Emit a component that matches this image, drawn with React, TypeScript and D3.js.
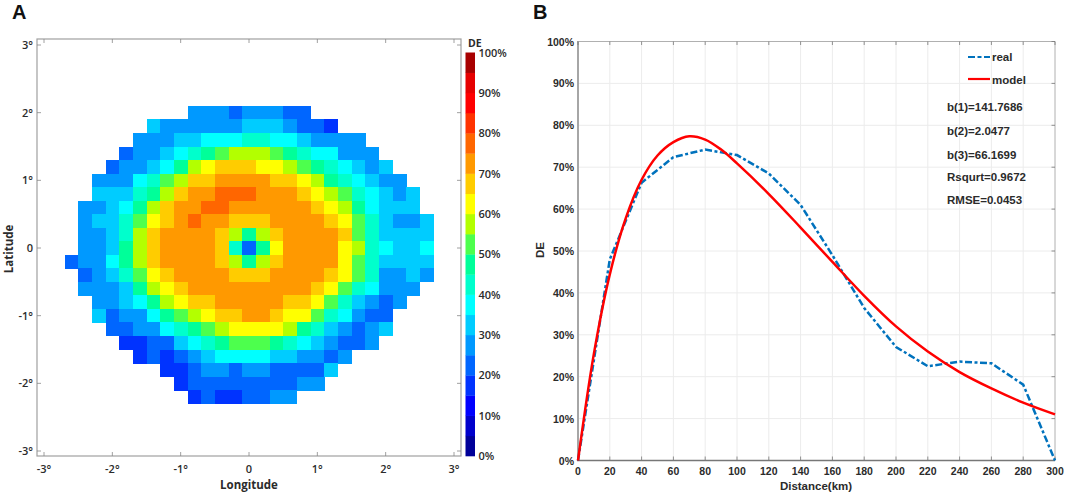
import React, { useEffect, useRef } from 'react';
import * as d3 from 'd3';

// Panel A: detection efficiency per 0.2 degree cell, top row first
// each row: first column index (col * 0.2 = longitude), then the values
const rowLats = d3.range(10, -12, -1);
const rowStarts = [-4, -7, -8, -9, -10, -11, -11, -12, -12, -12, -12, -13, -12, -12, -11, -11, -10, -9, -8, -6, -5, -4];
const rowValues = [
  [27, 27, 27, 22, 27, 27, 27, 22, 22],
  [32, 27, 27, 27, 27, 27, 27, 32, 32, 32, 27, 22, 22, 17],
  [27, 27, 27, 32, 32, 37, 37, 37, 42, 42, 37, 37, 32, 27, 27, 27, 27],
  [22, 27, 27, 32, 37, 42, 47, 52, 57, 57, 57, 52, 47, 42, 37, 37, 27, 27, 27],
  [22, 27, 27, 32, 37, 47, 57, 62, 67, 67, 67, 62, 62, 57, 52, 47, 42, 37, 32, 27, 32],
  [27, 27, 27, 37, 42, 52, 57, 67, 67, 72, 72, 72, 72, 67, 67, 62, 57, 47, 42, 37, 32, 27, 27],
  [32, 32, 32, 42, 47, 57, 67, 72, 72, 77, 77, 77, 72, 72, 72, 67, 62, 57, 52, 42, 37, 32, 27, 32],
  [27, 27, 32, 37, 47, 57, 67, 72, 72, 77, 77, 72, 72, 72, 72, 72, 72, 67, 62, 57, 47, 37, 32, 32, 32],
  [27, 32, 32, 42, 52, 62, 67, 72, 77, 72, 72, 67, 67, 67, 72, 72, 72, 72, 67, 62, 52, 42, 32, 27, 27, 32],
  [27, 27, 32, 42, 57, 67, 72, 72, 72, 72, 67, 57, 47, 57, 67, 72, 72, 72, 72, 67, 52, 42, 32, 32, 32, 32],
  [27, 27, 32, 47, 57, 67, 72, 72, 72, 72, 67, 42, 22, 47, 62, 72, 72, 72, 72, 62, 57, 42, 37, 32, 32, 37],
  [22, 27, 27, 37, 47, 57, 67, 72, 72, 72, 72, 67, 57, 47, 57, 67, 72, 72, 72, 72, 62, 52, 42, 32, 32, 32, 32],
  [22, 27, 32, 42, 52, 62, 67, 72, 72, 72, 72, 67, 67, 67, 72, 72, 72, 72, 67, 62, 52, 42, 27, 27, 32, 27],
  [27, 27, 27, 32, 47, 57, 62, 67, 72, 72, 72, 72, 72, 72, 72, 72, 72, 67, 62, 52, 42, 37, 27, 27, 27],
  [27, 27, 32, 37, 47, 57, 62, 67, 67, 72, 72, 72, 72, 72, 67, 67, 62, 52, 42, 32, 27, 22, 27],
  [32, 22, 27, 27, 37, 47, 52, 57, 62, 67, 67, 72, 72, 67, 62, 62, 52, 42, 37, 27, 22, 22],
  [22, 22, 27, 27, 37, 42, 47, 52, 57, 62, 62, 62, 62, 57, 47, 42, 32, 27, 22, 27, 32],
  [17, 17, 22, 22, 32, 37, 42, 47, 52, 52, 52, 47, 42, 37, 32, 27, 22, 22, 27],
  [17, 22, 17, 22, 27, 32, 37, 37, 37, 37, 32, 32, 27, 27, 22, 27],
  [17, 17, 22, 27, 27, 22, 27, 27, 22, 22, 22, 22, 32],
  [17, 22, 22, 22, 22, 22, 22, 22, 22, 27, 27],
  [17, 22, 17, 17, 22, 22, 27, 27],
];

const levelColors = [
  '#000099', '#0000cc', '#0000ff', '#0033ff', '#0066ff', '#0099ff', '#00ccff', '#00ffff', '#00ffcc', '#00ff99',
  '#4dff4d', '#b3ff00', '#ffff00', '#ffcc00', '#ff9900', '#ff6600', '#ff3300', '#ff0000', '#e60000', '#a80000',
];

const degreeTicks = [-3, -2, -1, 0, 1, 2, 3];
const colorbarTicks = d3.range(0, 101, 10);

// Panel B
const realDistance = [0, 20, 40, 60, 80, 100, 120, 140, 160, 180, 200, 220, 240, 260, 280, 300];
const realDE = [0, 48, 66.3, 72.4, 74.2, 72.9, 68.5, 61, 49, 36.4, 27.1, 22.5, 23.6, 23.2, 18.1, 0];
const modelDistance = [0, 10, 20, 30, 40, 50, 60, 70, 80, 90, 100, 120, 140, 160, 180, 200, 220, 240, 260, 280, 300];
const modelDE = [0, 25.5, 44.4, 57.8, 67, 72.8, 76, 77.4, 76.6, 74.2, 70.9, 63.6, 55.6, 47.4, 39.3, 32, 26, 21.1, 17.2, 13.8, 11];
const distanceTicks = d3.range(0, 301, 20);
const percentTicks = d3.range(0, 101, 10);
const fitLabels = ['b(1)=141.7686', 'b(2)=2.0477', 'b(3)=66.1699', 'Rsqurt=0.9672', 'RMSE=0.0453'];
const fitLabelY = [111, 135, 159, 181, 204];

const App: React.FC = () => {
  const chartRef = useRef<SVGSVGElement>(null);

  useEffect(() => {
    if (!chartRef.current) return;
    const svg = d3.select(chartRef.current);
    svg.selectAll('*').remove();

    const textColor = '#2b2b2b';
    const frameColor = '#a0a0a0';
    const fontA = '"Open Sans", sans-serif';
    const fontB = '"Liberation Sans", Arial, sans-serif';

    // ---- Panel A ----
    const x = d3.scaleLinear().domain([-3, 3]).range([44, 454]);
    const y = d3.scaleLinear().domain([3, -3]).range([45, 451]);
    const color = d3.scaleQuantize<string>().domain([0, 100]).range(levelColors);

    const cellW = x(0.2) - x(0);
    const cellH = y(-0.2) - y(0);

    const cells = rowValues.flatMap((vals, r) =>
      vals.map((v, i) => ({ col: rowStarts[r] + i, lat: rowLats[r], v }))
    );

    svg.append('g')
      .attr('shape-rendering', 'crispEdges')
      .selectAll('rect')
      .data(cells)
      .enter()
      .append('rect')
      .attr('x', d => x(d.col * 0.2) - cellW / 2)
      .attr('y', d => y(d.lat * 0.2) - cellH / 2)
      .attr('width', cellW + 0.5)
      .attr('height', cellH + 0.5)
      .attr('fill', d => color(d.v));

    // Frame and inward ticks on all four sides
    svg.append('rect')
      .attr('x', 37)
      .attr('y', 39)
      .attr('width', 424)
      .attr('height', 417)
      .attr('fill', 'none')
      .attr('stroke', frameColor)
      .attr('stroke-width', 1.2);

    const ticksA = svg.append('g').attr('stroke', '#888').attr('stroke-width', 0.8);
    degreeTicks.forEach(t => {
      ticksA.append('line').attr('x1', x(t)).attr('x2', x(t)).attr('y1', 456).attr('y2', 452);
      ticksA.append('line').attr('x1', x(t)).attr('x2', x(t)).attr('y1', 39).attr('y2', 43);
      ticksA.append('line').attr('x1', 37).attr('x2', 41).attr('y1', y(t)).attr('y2', y(t));
      ticksA.append('line').attr('x1', 461).attr('x2', 457).attr('y1', y(t)).attr('y2', y(t));
    });

    const deg = (d: number) => (d === 0 ? '0' : `${d}°`);

    svg.append('g')
      .selectAll('text')
      .data(degreeTicks)
      .enter()
      .append('text')
      .attr('x', d => x(d))
      .attr('y', 473)
      .attr('text-anchor', 'middle')
      .attr('font-family', fontA)
      .attr('font-size', '11px')
      .attr('font-weight', 600)
      .attr('fill', textColor)
      .text(deg);

    svg.append('g')
      .selectAll('text')
      .data(degreeTicks)
      .enter()
      .append('text')
      .attr('x', 33)
      .attr('y', d => y(d) + 4)
      .attr('text-anchor', 'end')
      .attr('font-family', fontA)
      .attr('font-size', '11px')
      .attr('font-weight', 600)
      .attr('fill', textColor)
      .text(deg);

    svg.append('text')
      .attr('x', 249)
      .attr('y', 489)
      .attr('text-anchor', 'middle')
      .attr('font-family', fontA)
      .attr('font-size', '11.5px')
      .attr('font-weight', 700)
      .attr('fill', textColor)
      .text('Longitude');

    svg.append('text')
      .attr('transform', 'translate(12.5,249) rotate(-90)')
      .attr('text-anchor', 'middle')
      .attr('font-family', fontA)
      .attr('font-size', '11.5px')
      .attr('font-weight', 700)
      .attr('fill', textColor)
      .text('Latitude');

    // Colorbar
    const cb = d3.scaleLinear().domain([0, 100]).range([456, 52.5]);
    svg.append('g')
      .selectAll('rect')
      .data(levelColors)
      .enter()
      .append('rect')
      .attr('x', 465.5)
      .attr('width', 9.5)
      .attr('y', (_, i) => cb((i + 1) * 5))
      .attr('height', cb(0) - cb(5) + 0.3)
      .attr('fill', d => d);

    svg.append('g')
      .selectAll('text')
      .data(colorbarTicks)
      .enter()
      .append('text')
      .attr('x', 478.5)
      .attr('y', d => cb(d) + 4)
      .attr('font-family', fontA)
      .attr('font-size', '11px')
      .attr('font-weight', 600)
      .attr('fill', textColor)
      .text(d => `${d}%`);

    svg.append('text')
      .attr('x', 468)
      .attr('y', 47)
      .attr('font-family', fontA)
      .attr('font-size', '10.5px')
      .attr('font-weight', 700)
      .attr('fill', textColor)
      .text('DE');

    // ---- Panel B ----
    const xB = d3.scaleLinear().domain([0, 300]).range([578, 1055]);
    const yB = d3.scaleLinear().domain([0, 100]).range([460.5, 41.5]);

    const grid = svg.append('g').attr('stroke', '#ececec').attr('stroke-width', 1);
    distanceTicks.slice(1, -1).forEach(t => {
      grid.append('line').attr('x1', xB(t)).attr('x2', xB(t)).attr('y1', yB(0)).attr('y2', yB(100));
    });
    percentTicks.slice(1, -1).forEach(t => {
      grid.append('line').attr('x1', xB(0)).attr('x2', xB(300)).attr('y1', yB(t)).attr('y2', yB(t));
    });

    // top and right edges are thin, left and bottom thick
    svg.append('line').attr('x1', 578).attr('x2', 1055).attr('y1', 41.5).attr('y2', 41.5).attr('stroke', '#b0b0b0').attr('stroke-width', 1);
    svg.append('line').attr('x1', 1055).attr('x2', 1055).attr('y1', 41.5).attr('y2', 460.5).attr('stroke', '#b0b0b0').attr('stroke-width', 1);
    svg.append('line').attr('x1', 578).attr('x2', 578).attr('y1', 41).attr('y2', 461).attr('stroke', '#a6a6a6').attr('stroke-width', 2);
    svg.append('line').attr('x1', 577).attr('x2', 1055).attr('y1', 460.5).attr('y2', 460.5).attr('stroke', '#777').attr('stroke-width', 1.5);

    const ticksB = svg.append('g').attr('stroke', '#777').attr('stroke-width', 0.8);
    distanceTicks.forEach(t => {
      ticksB.append('line').attr('x1', xB(t)).attr('x2', xB(t)).attr('y1', 41.5).attr('y2', 45);
      ticksB.append('line').attr('x1', xB(t)).attr('x2', xB(t)).attr('y1', 460).attr('y2', 456.5);
    });
    percentTicks.forEach(t => {
      ticksB.append('line').attr('x1', 1055).attr('x2', 1051.5).attr('y1', yB(t)).attr('y2', yB(t));
    });

    svg.append('g')
      .selectAll('text')
      .data(distanceTicks)
      .enter()
      .append('text')
      .attr('x', d => xB(d))
      .attr('y', 475)
      .attr('text-anchor', 'middle')
      .attr('font-family', fontB)
      .attr('font-size', '10.5px')
      .attr('font-weight', 700)
      .attr('fill', textColor)
      .text(d => d);

    svg.append('g')
      .selectAll('text')
      .data(percentTicks)
      .enter()
      .append('text')
      .attr('x', 574)
      .attr('y', d => yB(d) + 4)
      .attr('text-anchor', 'end')
      .attr('font-family', fontB)
      .attr('font-size', '10.5px')
      .attr('font-weight', 700)
      .attr('fill', textColor)
      .text(d => `${d}%`);

    svg.append('text')
      .attr('x', 816)
      .attr('y', 490)
      .attr('text-anchor', 'middle')
      .attr('font-family', fontB)
      .attr('font-size', '11.5px')
      .attr('font-weight', 700)
      .attr('fill', textColor)
      .text('Distance(km)');

    svg.append('text')
      .attr('transform', 'translate(544,250) rotate(-90)')
      .attr('text-anchor', 'middle')
      .attr('font-family', fontB)
      .attr('font-size', '11.5px')
      .attr('font-weight', 700)
      .attr('fill', textColor)
      .text('DE');

    // Curves
    const realLine = d3.line<number>()
      .x((_, i) => xB(realDistance[i]))
      .y(d => yB(d));

    const modelLine = d3.line<number>()
      .x((_, i) => xB(modelDistance[i]))
      .y(d => yB(d))
      .curve(d3.curveCatmullRom);

    svg.append('path')
      .datum(realDE)
      .attr('fill', 'none')
      .attr('stroke', '#0072bd')
      .attr('stroke-width', 2.5)
      .attr('stroke-dasharray', '7,2.5,3,2.5')
      .attr('d', realLine);

    svg.append('path')
      .datum(modelDE)
      .attr('fill', 'none')
      .attr('stroke', '#ff0000')
      .attr('stroke-width', 2.5)
      .attr('d', modelLine);

    // Legend
    svg.append('line').attr('x1', 968).attr('x2', 990).attr('y1', 57).attr('y2', 57)
      .attr('stroke', '#0072bd').attr('stroke-width', 2.2).attr('stroke-dasharray', '7,2.5,4,2.5');
    svg.append('line').attr('x1', 968).attr('x2', 990).attr('y1', 79).attr('y2', 79)
      .attr('stroke', '#ff0000').attr('stroke-width', 2.2);

    ['real', 'model'].forEach((label, i) => {
      svg.append('text')
        .attr('x', 992)
        .attr('y', [61, 84][i])
        .attr('font-family', fontB)
        .attr('font-size', '11.5px')
        .attr('font-weight', 700)
        .attr('fill', textColor)
        .text(label);
    });

    svg.append('g')
      .selectAll('text')
      .data(fitLabels)
      .enter()
      .append('text')
      .attr('x', 947)
      .attr('y', (_, i) => fitLabelY[i])
      .attr('font-family', fontB)
      .attr('font-size', '11.5px')
      .attr('font-weight', 700)
      .attr('fill', textColor)
      .text(d => d);

    // Panel letters
    [['A', 12], ['B', 533]].forEach(([label, px]) => {
      svg.append('text')
        .attr('x', px as number)
        .attr('y', 19)
        .attr('font-family', fontB)
        .attr('font-size', '20px')
        .attr('font-weight', 700)
        .attr('fill', '#111')
        .text(label as string);
    });
  }, []);

  return (
    <svg
      ref={chartRef}
      width={1065}
      height={494}
      style={{ position: 'absolute', left: 0, top: 0, background: '#fff' }}
    />
  );
};

export default App;
